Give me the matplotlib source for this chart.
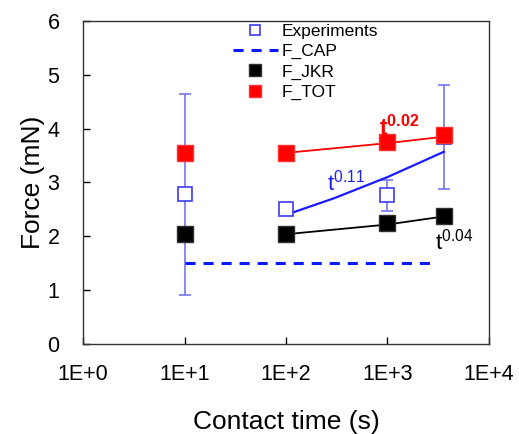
import matplotlib
matplotlib.use("Agg")
import matplotlib.pyplot as plt
from matplotlib.ticker import FixedLocator, FixedFormatter, NullLocator

plt.rcParams['font.family'] = ['Liberation Sans', 'DejaVu Sans']
plt.rcParams['mathtext.fontset'] = 'custom'
plt.rcParams['mathtext.rm'] = 'Liberation Sans'
plt.rcParams['mathtext.it'] = 'Liberation Sans'
plt.rcParams['mathtext.bf'] = 'Liberation Sans:bold'

# Data
exp_t = [10, 100, 1000, 3600]
exp_f = [2.78, 2.50, 2.77, 3.85]
exp_lo = [0.92, 2.43, 2.48, 2.88]
exp_hi = [4.65, 2.57, 3.05, 4.80]

jkr_t = [10, 100, 1000, 3600]
jkr_f = [2.04, 2.04, 2.24, 2.37]

tot_t = [10, 100, 1000, 3600]
tot_f = [3.55, 3.55, 3.75, 3.88]

cap_t = [10, 3000]
cap_f = [1.5, 1.5]

fit_exp_t = [100, 300, 1000, 3600]
fit_exp_f = [2.40, 2.71, 3.10, 3.57]
fit_jkr_t = [100, 1000, 3600]
fit_jkr_f = [2.04, 2.22, 2.37]
fit_tot_t = [100, 1000, 3600]
fit_tot_f = [3.55, 3.73, 3.85]

xticks = [1, 10, 100, 1000, 10000]
xticklabels = ['1E+0', '1E+1', '1E+2', '1E+3', '1E+4']
yticks = [0, 1, 2, 3, 4, 5, 6]

fig = plt.figure(figsize=(5.19, 4.34), dpi=100)
ax = fig.add_axes([0.160, 0.207, 0.782, 0.745])

# fits
ax.plot(fit_exp_t, fit_exp_f, color='#1a1aff', lw=1.6, zorder=2)
ax.plot(fit_jkr_t, fit_jkr_f, color='black', lw=1.3, zorder=2)
ax.plot(fit_tot_t, fit_tot_f, color='#ff0000', lw=1.3, zorder=2)

# error bars
err_lo = [f - l for f, l in zip(exp_f, exp_lo)]
err_hi = [h - f for f, h in zip(exp_f, exp_hi)]
ax.errorbar(exp_t, exp_f, yerr=[err_lo, err_hi], fmt='none', ecolor='#7474f2',
            elinewidth=1.2, capsize=4, capthick=1.2, zorder=1)

ax.plot(exp_t, exp_f, 's', ms=9.5, mfc='white', mec='#3c3cf0', mew=1.2,
        ls='none', label='Experiments', zorder=4)
ax.plot(cap_t, cap_f, color='#0a1aff', lw=2.2, ls=(0, (3.3, 2.6)), label='F_CAP', zorder=3)
ax.plot(jkr_t, jkr_f, 's', ms=11.5, color='black', mec='#303030', ls='none',
        label='F_JKR', zorder=5)
ax.plot(tot_t, tot_f, 's', ms=11.5, color='#ff0000', mec='#ff3030', ls='none',
        label='F_TOT', zorder=5)

ax.text(830, 3.86, r'$\mathbf{t}^{\mathbf{0.02}}$', color='#ff0000', fontsize=16.5,
        ha='left', va='baseline', zorder=6)
ax.text(253, 2.86, r'$\mathrm{t}^{\mathrm{0.11}}$', color='#1a1aff', fontsize=16,
        ha='left', va='baseline')
ax.text(2940, 1.76, r'$\mathrm{t}^{\mathrm{0.04}}$', color='black', fontsize=16,
        ha='left', va='baseline')

ax.set_xscale('log')
ax.set_xlim(1, 10000)
ax.set_ylim(0, 6)
ax.xaxis.set_major_locator(FixedLocator(xticks))
ax.xaxis.set_major_formatter(FixedFormatter(xticklabels))
ax.xaxis.set_minor_locator(NullLocator())
ax.set_yticks(yticks)
ax.tick_params(axis='both', direction='in', labelsize=15.5, length=5, width=1,
               top=False, right=False)
ax.tick_params(axis='x', pad=14)
ax.tick_params(axis='y', pad=17)
for s in ax.spines.values():
    s.set_linewidth(1.0)
    s.set_color('#333333')

ax.set_xlabel('Contact time (s)', fontsize=19, labelpad=18.5)
ax.set_ylabel('Force (mN)', fontsize=19, labelpad=2)

leg = ax.legend(loc='upper left', bbox_to_anchor=(0.362, 1.0), frameon=False,
                fontsize=12.5, handlelength=2.6, handletextpad=0.25,
                labelspacing=0.3, borderaxespad=0.0, borderpad=0.15,
                markerscale=0.8)

fig.savefig('out.png', dpi=100)
